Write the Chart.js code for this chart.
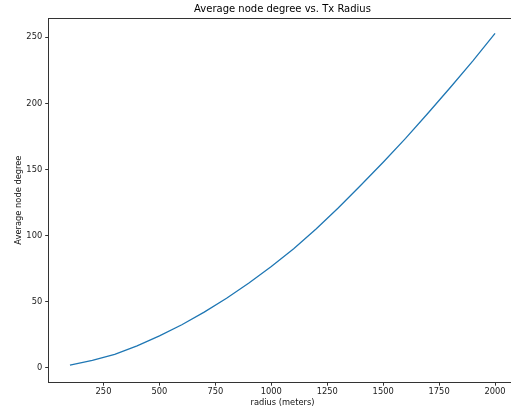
<!DOCTYPE html>
<html>
<head>
<meta charset="utf-8">
<script src="https://cdn.jsdelivr.net/npm/chart.js@4"></script>
<style>
  html, body { margin: 0; padding: 0; background: #fff; overflow: hidden; }
  #wrap { width: 511px; height: 412px; overflow: hidden; }
  #box { width: 520px; height: 412px; }
</style>
</head>
<body>
<div id="wrap"><div id="box"><canvas id="degreeChart"></canvas></div></div>
<script>
// data
const radius = [100, 200, 300, 400, 500, 600, 700, 800, 900, 1000,
                1100, 1200, 1300, 1400, 1500, 1600, 1700, 1800, 1900, 2000];
const avgDegree = [2, 5.5, 10, 16.5, 24, 32.5, 42, 52.5, 64, 76.5,
                   90, 105, 121, 138, 155.5, 173.5, 192.5, 212, 232, 253];
const xTicks = [250, 500, 750, 1000, 1250, 1500, 1750, 2000];
const yTicks = [0, 50, 100, 150, 200, 250];

const chartTitle = 'Average node degree vs. Tx Radius';
const axisColor = '#333';
const font = 'DejaVu Sans';

// title centred over the plot area + top/right spines, like matplotlib
const framePlugin = {
    id: 'mplFrame',
    afterDraw(chart) {
        const c = chart.ctx, a = chart.chartArea;
        c.save();
        c.strokeStyle = axisColor;
        c.lineWidth = 1;
        c.beginPath();
        c.moveTo(a.left, Math.round(a.top) + 0.5);
        c.lineTo(a.right, Math.round(a.top) + 0.5);
        c.lineTo(a.right, a.bottom);
        c.stroke();
        c.font = '10px "' + font + '"';
        c.fillStyle = '#000';
        c.textAlign = 'center';
        c.textBaseline = 'middle';
        c.fillText(chartTitle, (a.left + a.right) / 2, 9);
        c.restore();
    }
};

const ctx = document.getElementById('degreeChart').getContext('2d');
const chart = new Chart(ctx, {
    type: 'line',
    data: {
        datasets: [{
            data: radius.map((r, i) => ({ x: r, y: avgDegree[i] })),
            borderColor: '#1f77b4',
            borderWidth: 1.3,
            pointRadius: 0,
            tension: 0,
            fill: false
        }]
    },
    plugins: [framePlugin],
    options: {
        responsive: true,
        maintainAspectRatio: false,
        animation: false,
        layout: { padding: { left: 0, top: 18, right: 3.7, bottom: 0 } },
        plugins: {
            legend: { display: false },
            tooltip: { enabled: false }
        },
        scales: {
            x: {
                type: 'linear',
                min: 5,
                max: 2095,
                afterBuildTicks: s => { s.ticks = xTicks.map(v => ({ value: v })); },
                afterFit: s => { s.height = 29.8; },
                grid: { drawOnChartArea: false, drawTicks: true, tickLength: 3.5, tickColor: axisColor },
                border: { color: axisColor, width: 1 },
                ticks: { color: '#222', font: { family: font, size: 8.3 }, padding: 1, maxRotation: 0,
                         callback: v => String(v) },
                title: { display: true, text: 'radius (meters)', color: '#111',
                         font: { family: font, size: 8.3 }, padding: { top: 0, bottom: 4.5 } }
            },
            y: {
                type: 'linear',
                min: -11,
                max: 264.6,
                afterBuildTicks: s => { s.ticks = yTicks.map(v => ({ value: v })); },
                afterFit: s => { s.width = 48.7; },
                grid: { drawOnChartArea: false, drawTicks: true, tickLength: 3.5, tickColor: axisColor },
                border: { color: axisColor, width: 1 },
                ticks: { color: '#222', font: { family: font, size: 8.3 }, padding: 3,
                         callback: v => String(v) },
                title: { display: true, text: 'Average node degree', color: '#111',
                         font: { family: font, size: 8.3 }, padding: { top: 14, bottom: 0 } }
            }
        }
    }
});
</script>
</body>
</html>
